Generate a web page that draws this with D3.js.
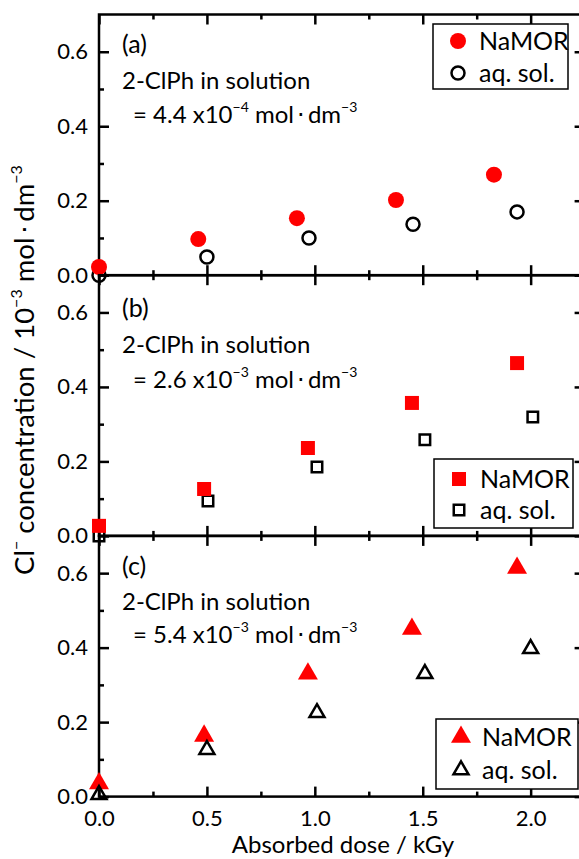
<!DOCTYPE html>
<html>
<head>
<meta charset="utf-8">
<script src="https://cdn.jsdelivr.net/npm/d3@7"></script>
<style>
  body { margin: 0; background: #fff; }
  svg { display: block; font-family: Lato, "Open Sans", sans-serif; }
</style>
</head>
<body>
<svg id="chart" width="579" height="859"></svg>
<script>
// dose (kGy) for each series
const doseA_namor = [0.0, 0.46, 0.917, 1.376, 1.83];
const concA_namor = [0.022, 0.097, 0.153, 0.202, 0.27];
const doseA_aq = [0.0, 0.50, 0.973, 1.455, 1.937];
const concA_aq = [0.0, 0.049, 0.10, 0.137, 0.17];

const doseB_namor = [0.0, 0.487, 0.968, 1.45, 1.937];
const concB_namor = [0.027, 0.126, 0.236, 0.357, 0.464];
const doseB_aq = [0.0, 0.505, 1.01, 1.51, 2.01];
const concB_aq = [0.0, 0.094, 0.185, 0.258, 0.319];

const doseC_namor = [0.0, 0.487, 0.968, 1.45, 1.937];
const concC_namor = [0.035, 0.163, 0.33, 0.45, 0.614];
const doseC_aq = [0.0, 0.50, 1.01, 1.51, 2.0];
const concC_aq = [0.005, 0.126, 0.225, 0.33, 0.397];

const panelLabels = ["(a)", "(b)", "(c)"];
const concentrations = [["4.4", "−4"], ["2.6", "−3"], ["5.4", "−3"]];
const seriesNames = ["NaMOR", "aq. sol."];
const yTicks = [0, 0.2, 0.4, 0.6];
const yMinor = [0.1, 0.3, 0.5];
const xTicks = [0, 0.5, 1.0, 1.5, 2.0];
const xMinor = [0.25, 0.75, 1.25, 1.75];

const svg = d3.select("#chart");
const left = 99, right = 584.6;
const panelTop = 14.5, panelH = 260.7;

const x = d3.scaleLinear().domain([0, 2.25]).range([left, right]);

const panels = [
  { namor: d3.zip(doseA_namor, concA_namor), aq: d3.zip(doseA_aq, concA_aq),
    shape: d3.symbolCircle, fillSize: 201, openSize: 133, aqOnTop: false,
    text: [53, 89, 123], legend: { x0: 433, x1: 568, y0: 24, y1: 89, rows: [41, 73] } },
  { namor: d3.zip(doseB_namor, concB_namor), aq: d3.zip(doseB_aq, concB_aq),
    shape: d3.symbolSquare, fillSize: 196, openSize: 110, aqOnTop: false,
    text: [317, 353, 388], legend: { x0: 434, x1: 573, y0: 459, y1: 528, rows: [479, 510] } },
  { namor: d3.zip(doseC_namor, concC_namor), aq: d3.zip(doseC_aq, concC_aq),
    shape: d3.symbolTriangle, fillSize: 173, openSize: 97, aqOnTop: true,
    text: [575, 610, 643], legend: { x0: 436, x1: 578, y0: 719, y1: 789, rows: [737, 770] } }
];

panels.forEach((p, i) => {
  const top = panelTop + i * panelH;
  const y = d3.scaleLinear().domain([0, 0.7]).range([top + panelH, top]);
  const g = svg.append("g");

  // ticks on all four sides, pointing inward
  const tl = g.append("g").attr("transform", `translate(${left},0)`)
    .call(d3.axisLeft(y).tickValues(yTicks).tickSize(-10).tickPadding(11).tickFormat(d3.format(".1f")));
  tl.append("g").call(d3.axisLeft(y).tickValues(yMinor).tickSize(-5).tickFormat(""));
  const tr = g.append("g").attr("transform", `translate(${right},0)`)
    .call(d3.axisRight(y).tickValues(yTicks).tickSize(-10).tickFormat(""));
  tr.append("g").call(d3.axisRight(y).tickValues(yMinor).tickSize(-5).tickFormat(""));
  const tb = g.append("g").attr("transform", `translate(0,${top + panelH})`)
    .call(d3.axisBottom(x).tickValues(xTicks).tickSize(-10).tickPadding(14)
      .tickFormat(i === 2 ? d3.format(".1f") : ""));
  tb.append("g").call(d3.axisBottom(x).tickValues(xMinor).tickSize(-5).tickFormat(""));
  const tt = g.append("g").attr("transform", `translate(0,${top})`)
    .call(d3.axisTop(x).tickValues(xTicks).tickSize(-10).tickFormat(""));
  tt.append("g").call(d3.axisTop(x).tickValues(xMinor).tickSize(-5).tickFormat(""));

  g.selectAll(".domain").remove();
  g.selectAll(".tick line").attr("stroke", "#000").attr("stroke-width", 2.5);
  g.selectAll(".tick text").attr("font-size", 22).attr("fill", "#000")
    .attr("font-family", "Lato, sans-serif");

  g.append("rect")
    .attr("x", left).attr("y", top)
    .attr("width", right - left).attr("height", panelH)
    .attr("fill", "none").attr("stroke", "#000").attr("stroke-width", 2.5);

  // annotations
  g.append("text").attr("x", 122).attr("y", p.text[0]).attr("font-size", 25).text(panelLabels[i]);
  g.append("text").attr("x", 122).attr("y", p.text[1]).attr("font-size", 24).text("2-ClPh in solution");
  const t = g.append("text").attr("x", 133).attr("y", p.text[2]).attr("font-size", 24);
  t.append("tspan").text(`= ${concentrations[i][0]} x10`);
  t.append("tspan").attr("font-size", 14).attr("dy", -11).text(concentrations[i][1]);
  t.append("tspan").attr("dy", 11).text(" mol\u2009\u22C5\u2009dm");
  t.append("tspan").attr("font-size", 14).attr("dy", -11).text("−3");

  // data points
  const sym = d3.symbol().type(p.shape);
  const drawAq = () => g.append("g").selectAll("path").data(p.aq).join("path")
    .attr("transform", d => `translate(${x(d[0])},${y(d[1])})`)
    .attr("d", sym.size(p.openSize)())
    .attr("fill", "none").attr("stroke", "#000").attr("stroke-width", 2.5);
  const drawNa = () => g.append("g").selectAll("path").data(p.namor).join("path")
    .attr("transform", d => `translate(${x(d[0])},${y(d[1])})`)
    .attr("d", sym.size(p.fillSize)())
    .attr("fill", "#ff0000");
  if (p.aqOnTop) { drawNa(); drawAq(); } else { drawAq(); drawNa(); }

  // legend
  const L = p.legend;
  g.append("rect").attr("x", L.x0).attr("y", L.y0)
    .attr("width", L.x1 - L.x0).attr("height", L.y1 - L.y0)
    .attr("fill", "#fff").attr("stroke", "#000").attr("stroke-width", 1.5);
  g.append("path").attr("transform", `translate(${L.x0 + 25},${L.rows[0]})`)
    .attr("d", sym.size(p.fillSize)()).attr("fill", "#ff0000");
  g.append("path").attr("transform", `translate(${L.x0 + 25},${L.rows[1]})`)
    .attr("d", sym.size(p.openSize)()).attr("fill", "none").attr("stroke", "#000").attr("stroke-width", 2.5);
  seriesNames.forEach((s, k) => {
    g.append("text").attr("x", L.x0 + 46).attr("y", L.rows[k] + 9).attr("font-size", 25).text(s);
  });
});

// axis titles
svg.append("text")
  .attr("x", 343).attr("y", 853).attr("text-anchor", "middle").attr("font-size", 24)
  .text("Absorbed dose / kGy");

const yl = svg.append("text")
  .attr("transform", "translate(34,370) rotate(-90)")
  .attr("text-anchor", "middle").attr("font-size", 27.5);
yl.append("tspan").text("Cl");
yl.append("tspan").attr("font-size", 16).attr("dy", -12).text("−");
yl.append("tspan").attr("dy", 12).text(" concentration / 10");
yl.append("tspan").attr("font-size", 16).attr("dy", -12).text("−3");
yl.append("tspan").attr("dy", 12).text(" mol\u2009\u22C5\u2009dm");
yl.append("tspan").attr("font-size", 16).attr("dy", -12).text("−3");
</script>
</body>
</html>
